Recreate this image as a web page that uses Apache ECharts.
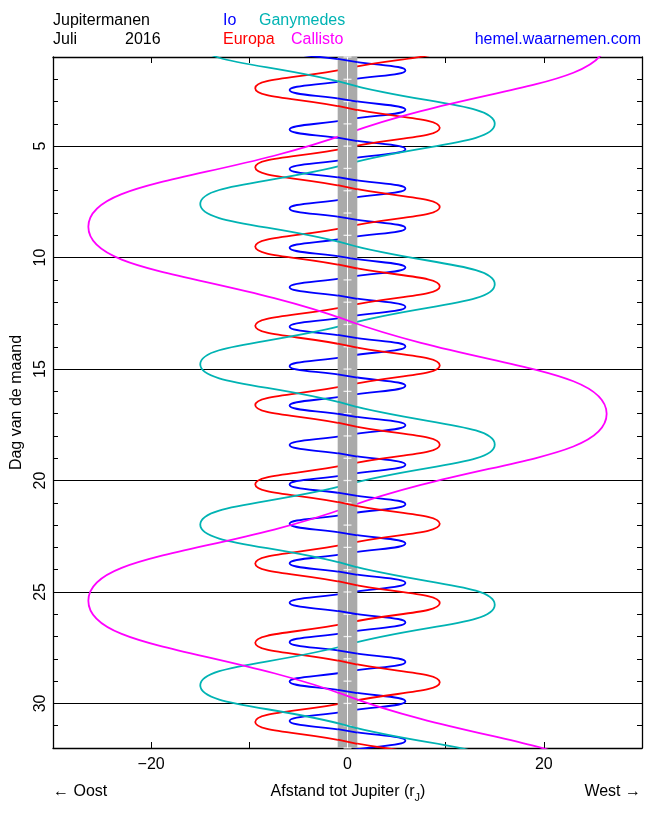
<!DOCTYPE html>
<html><head><meta charset="utf-8">
<script src="https://cdn.jsdelivr.net/npm/echarts@6/dist/echarts.min.js"></script>
<style>html,body{margin:0;padding:0;background:#fff}#c{width:650px;height:813px}</style>
</head><body><div id="c"></div>
<script>
// Key points: elongation extremes and zero crossings (day, distance in rJ)
const ioDays = [0.275,0.717,1.159,1.601,2.044,2.486,2.928,3.371,3.813,4.255,4.697,5.140,5.582,6.024,6.466,6.909,7.351,7.793,8.235,8.678,9.120,9.562,10.004,10.447,10.889,11.331,11.773,12.216,12.658,13.100,13.542,13.985,14.427,14.869,15.311,15.754,16.196,16.638,17.080,17.523,17.965,18.407,18.849,19.292,19.734,20.176,20.618,21.061,21.503,21.945,22.387,22.830,23.272,23.714,24.156,24.599,25.041,25.483,25.925,26.368,26.810,27.252,27.694,28.137,28.579,29.021,29.463,29.906,30.348,30.790,31.232,31.675,32.117,32.559];
const ioX = [0,-5.9,0,5.9,0,-5.9,0,5.9,0,-5.9,0,5.9,0,-5.9,0,5.9,0,-5.9,0,5.9,0,-5.9,0,5.9,0,-5.9,0,5.9,0,-5.9,0,5.9,0,-5.9,0,5.9,0,-5.9,0,5.9,0,-5.9,0,5.9,0,-5.9,0,5.9,0,-5.9,0,5.9,0,-5.9,0,5.9,0,-5.9,0,5.9,0,-5.9,0,5.9,0,-5.9,0,5.9,0,-5.9,0,5.9,0,-5.9];

const europaDays = [-0.269,0.620,1.509,2.397,3.286,4.174,5.063,5.951,6.840,7.728,8.617,9.505,10.394,11.282,12.171,13.059,13.948,14.836,15.725,16.613,17.502,18.390,19.279,20.167,21.056,21.944,22.833,23.721,24.610,25.498,26.387,27.275,28.164,29.052,29.941,30.829,31.718,32.606,33.495];
const europaX = [0,9.4,0,-9.4,0,9.4,0,-9.4,0,9.4,0,-9.4,0,9.4,0,-9.4,0,9.4,0,-9.4,0,9.4,0,-9.4,0,9.4,0,-9.4,0,9.4,0,-9.4,0,9.4,0,-9.4,0,9.4,0];

const ganymedeDays = [-1.393,0.405,2.203,4.000,5.798,7.595,9.393,11.190,12.988,14.785,16.583,18.380,20.178,21.975,23.773,25.570,27.368,29.190,31.000,32.800,34.600];
const ganymedeX = [0,-15,0,15,0,-15,0,15,0,-15,0,15,0,-15,0,15,0,-15,0,15,0];

const callistoDays = [-3.95,0.24,4.43,8.62,12.82,17.01,21.20,25.39,29.67,33.95,38.2];
const callistoX = [0,26.4,0,-26.4,0,26.4,0,-26.4,0,26.4,0];

const gridDays = [5,10,15,20,25,30];
const tickDays = [1,2,3,4,5,6,7,8,9,10,11,12,13,14,15,16,17,18,19,20,21,22,23,24,25,26,27,28,29,30,31,32];
const jupiterRadius = 1;

const FONT = '"Liberation Sans", Arial, sans-serif';
const C_IO = '#0000ff', C_EU = '#ff0000', C_GA = '#00b3b3', C_CA = '#ff00ff';

function pairs(days, xs) { return days.map((d, i) => [xs[i], d]); }
// segments in front of the disk: where the moon moves from east (-) to west (+)
function transits(days, xs) {
  const out = [];
  for (let i = 1; i < xs.length - 1; i++) {
    if (xs[i] === 0 && xs[i + 1] > 0 && xs[i - 1] < 0) {
      const d = (days[i + 1] - days[i - 1]) / (xs[i + 1] - xs[i - 1]) * jupiterRadius;
      out.push([-jupiterRadius, days[i] - d], [jupiterRadius, days[i] + d], ['-', '-']);
    }
  }
  return out;
}

function moon(name, days, xs, color) {
  return [{
    name, type: 'line', z: 2, smooth: true, symbol: 'none', clip: true,
    lineStyle: { color, width: 1.8 }, data: pairs(days, xs), silent: true
  }, {
    name: name + '-front', type: 'line', z: 6, symbol: 'none', clip: true,
    lineStyle: { color, width: 1.8 }, data: transits(days, xs), silent: true
  }];
}

const axisLineStyle = { color: '#000', width: 1.3 };
const option = {
  animation: false,
  backgroundColor: '#fff',
  grid: { left: 53, right: 8, top: 57, bottom: 65, containLabel: false, outerBoundsMode: 'none' },
  xAxis: [{
    type: 'value', min: -30, max: 30, interval: 10, position: 'bottom',
    axisLine: { onZero: false, lineStyle: axisLineStyle },
    axisTick: { inside: true, length: 6, lineStyle: { color: '#000' } },
    axisLabel: { color: '#000', fontSize: 16, fontFamily: FONT, margin: 9,
      formatter: v => (v % 20 === 0 ? (v < 0 ? '\u2212' + Math.abs(v) : String(v)) : '') },
    splitLine: { show: false }
  }, {
    type: 'value', min: -30, max: 30, interval: 10, position: 'top',
    axisLine: { onZero: false, lineStyle: axisLineStyle },
    axisTick: { inside: true, length: 6, lineStyle: { color: '#000' } },
    axisLabel: { show: false }, splitLine: { show: false }
  }],
  yAxis: [{
    type: 'value', inverse: true, min: 1, max: 32, interval: 1, position: 'left',
    axisLine: { onZero: false, lineStyle: axisLineStyle },
    axisTick: { inside: true, length: 5, lineStyle: { color: '#000' } },
    axisLabel: { color: '#000', fontSize: 16, fontFamily: FONT, rotate: 90, margin: 4,
      formatter: v => (v % 5 === 0 ? String(v) : '') },
    splitLine: { show: false },
    name: 'Dag van de maand', nameLocation: 'middle', nameGap: 28, nameRotate: 90,
    nameTextStyle: { color: '#000', fontSize: 16, fontFamily: FONT }
  }, {
    type: 'value', inverse: true, min: 1, max: 32, interval: 1, position: 'right',
    axisLine: { onZero: false, lineStyle: axisLineStyle },
    axisTick: { inside: true, length: 5, lineStyle: { color: '#000' } },
    axisLabel: { show: false }, splitLine: { show: false }
  }],
  series: [
    ...moon('Io', ioDays, ioX, C_IO),
    ...moon('Europa', europaDays, europaX, C_EU),
    ...moon('Ganymedes', ganymedeDays, ganymedeX, C_GA),
    ...moon('Callisto', callistoDays, callistoX, C_CA),
    {
      name: 'disk', type: 'scatter', z: 5, symbol: 'rect', symbolSize: [8, 1.3],
      itemStyle: { color: '#ffffff' }, silent: true,
      data: tickDays.map(d => [0, d]),
      markArea: { z: 3, silent: true, itemStyle: { color: '#aaaaaa' },
        data: [[{ xAxis: -jupiterRadius }, { xAxis: jupiterRadius }]] },
      markLine: { z: 4, silent: true, symbol: 'none', label: { show: false },
        lineStyle: { color: '#ffffff', width: 1, type: 'solid' }, data: [{ xAxis: 0 }] }
    },
    {
      name: 'grid', type: 'line', z: 1, data: [], symbol: 'none', silent: true,
      markLine: { z: 1, silent: true, symbol: 'none', label: { show: false },
        lineStyle: { color: '#000', width: 1.2, type: 'solid' },
        data: gridDays.map(d => ({ yAxis: d })) }
    }
  ],
  graphic: [
    { type: 'text', x: 53, y: 21, style: { text: 'Jupitermanen', font: '16px ' + FONT, fill: '#000', textAlign: 'left', textVerticalAlign: 'middle' } },
    { type: 'text', x: 53, y: 39.5, style: { text: 'Juli', font: '16px ' + FONT, fill: '#000', textAlign: 'left', textVerticalAlign: 'middle' } },
    { type: 'text', x: 125, y: 39.5, style: { text: '2016', font: '16px ' + FONT, fill: '#000', textAlign: 'left', textVerticalAlign: 'middle' } },
    { type: 'text', x: 223, y: 21, style: { text: 'Io', font: '16px ' + FONT, fill: C_IO, textAlign: 'left', textVerticalAlign: 'middle' } },
    { type: 'text', x: 259, y: 21, style: { text: 'Ganymedes', font: '16px ' + FONT, fill: C_GA, textAlign: 'left', textVerticalAlign: 'middle' } },
    { type: 'text', x: 223, y: 39.5, style: { text: 'Europa', font: '16px ' + FONT, fill: C_EU, textAlign: 'left', textVerticalAlign: 'middle' } },
    { type: 'text', x: 291, y: 39.5, style: { text: 'Callisto', font: '16px ' + FONT, fill: C_CA, textAlign: 'left', textVerticalAlign: 'middle' } },
    { type: 'text', x: 641, y: 39.5, style: { text: 'hemel.waarnemen.com', font: '16px ' + FONT, fill: C_IO, textAlign: 'right', textVerticalAlign: 'middle' } },
    { type: 'text', x: 53, y: 792, style: { text: '\u2190 Oost', font: '16px ' + FONT, fill: '#000', textAlign: 'left', textVerticalAlign: 'middle' } },
    { type: 'text', x: 641, y: 792, style: { text: 'West \u2192', font: '16px ' + FONT, fill: '#000', textAlign: 'right', textVerticalAlign: 'middle' } },
    { type: 'text', x: 348, y: 792, style: {
      text: '{a|Afstand tot Jupiter (r}{s|J}{a|)}', textAlign: 'center', textVerticalAlign: 'middle',
      rich: { a: { fontSize: 16, fontFamily: FONT, fill: '#000', color: '#000', lineHeight: 22, verticalAlign: 'middle' },
              s: { fontSize: 11, fontFamily: FONT, fill: '#000', color: '#000', lineHeight: 22, verticalAlign: 'bottom' } } } }
  ]
};
const chart = echarts.init(document.getElementById('c'), null, { renderer: 'canvas' });
chart.setOption(option);
</script>
</body></html>
